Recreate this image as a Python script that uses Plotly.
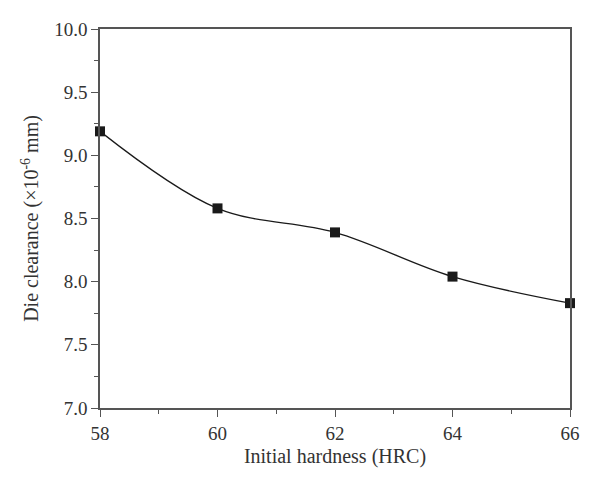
import plotly.graph_objects as go

hardness = [58, 60, 62, 64, 66]
clearance = [9.19, 8.58, 8.39, 8.04, 7.83]

font_family = "Liberation Serif, DejaVu Serif, serif"
text_color = "#333333"

fig = go.Figure()
fig.add_trace(go.Scatter(
    x=hardness, y=clearance,
    mode="lines+markers",
    line=dict(shape="spline", color="#1a1a1a", width=1.3),
    marker=dict(symbol="square", size=10, color="#1a1a1a"),
    cliponaxis=False,
    showlegend=False,
))

axis_common = dict(
    showline=True, linecolor="#555555", linewidth=1.5,
    mirror=True, showgrid=False, zeroline=False,
    ticks="outside", ticklen=7, tickwidth=1.2, tickcolor="#555555",
    tickfont=dict(family=font_family, size=19, color=text_color),
)

fig.update_xaxes(
    range=[58, 66], dtick=2, tick0=58,
    title=dict(text="Initial hardness (HRC)", font=dict(family=font_family, size=20, color=text_color), standoff=6),
    minor=dict(ticks="outside", dtick=1, ticklen=4, tickcolor="#555555", tickwidth=1.2),
    **axis_common,
)
fig.update_yaxes(
    range=[7.0, 10.0], dtick=0.5, tick0=7.0, tickformat=".1f",
    title=dict(text="Die clearance (×10<sup>-6</sup> mm)", font=dict(family=font_family, size=20, color=text_color), standoff=10),
    minor=dict(ticks="outside", dtick=0.25, ticklen=4, tickcolor="#555555", tickwidth=1.2),
    **axis_common,
)

# page body has an 8px margin, so margins are shifted to land the plot area on the reference position
fig.update_layout(
    width=600, height=489,
    margin=dict(l=92, r=38, t=21, b=89),
    plot_bgcolor="white", paper_bgcolor="white",
)

fig.write_html("out.html")
